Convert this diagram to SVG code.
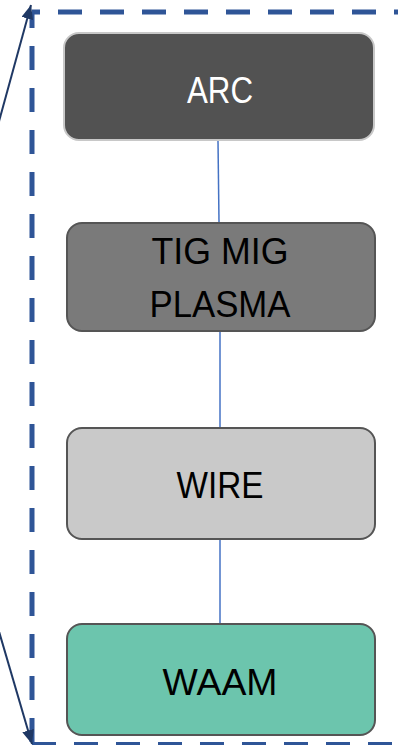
<svg xmlns="http://www.w3.org/2000/svg" width="398" height="745" viewBox="0 0 398 745">
<style>
.frame{stroke:#2f5597;stroke-width:5;fill:none;stroke-dasharray:24 18}
.arrow{stroke:#1f3864;stroke-width:2;fill:none}
.conn{stroke:#4472c4;stroke-width:1.5;fill:none}
.box{stroke:#555555;stroke-width:2}
.lbl{font-family:"Liberation Sans",Arial,sans-serif;font-size:37px;text-anchor:middle}
</style>
<defs>
<marker id="ah" viewBox="0 0 14 12" refX="14" refY="6" markerWidth="14" markerHeight="12" markerUnits="userSpaceOnUse" orient="auto">
<path d="M0,0 L14,6 L0,12 z" fill="#1f3864"/>
</marker>
</defs>
<g id="frame">
<line class="frame" x1="32" y1="12" x2="402" y2="12" stroke-dashoffset="16"/>
<line class="frame" x1="32" y1="12" x2="32" y2="744" stroke-dashoffset="8"/>
<line class="frame" x1="32" y1="744.5" x2="402" y2="744.5"/>
</g>
<g id="connectors">
<line class="arrow" x1="-2" y1="125" x2="31" y2="5" marker-end="url(#ah)"/>
<line class="arrow" x1="-2" y1="628" x2="32" y2="744" marker-end="url(#ah)"/>
<line class="conn" x1="218" y1="141" x2="219" y2="222"/>
<line class="conn" x1="220" y1="332" x2="220" y2="427"/>
<line class="conn" x1="220" y1="540" x2="220" y2="624"/>
</g>
<g id="arc">
<rect x="64" y="33" width="310" height="107" rx="15" fill="#525252" stroke="#c8c8c8" stroke-width="2"/>
<text class="lbl" x="220" y="103" fill="#ffffff" textLength="66" lengthAdjust="spacingAndGlyphs">ARC</text>
</g>
<g id="tig">
<rect class="box" x="67" y="223" width="308" height="108" rx="15" fill="#7a7a7a"/>
<text class="lbl" x="220" y="264" fill="#000000" textLength="137" lengthAdjust="spacingAndGlyphs">TIG MIG</text>
<text class="lbl" x="220" y="317" fill="#000000" textLength="141" lengthAdjust="spacingAndGlyphs">PLASMA</text>
</g>
<g id="wire">
<rect class="box" x="67" y="428" width="308" height="111" rx="15" fill="#c9c9c9"/>
<text class="lbl" x="220" y="498" fill="#000000" textLength="87" lengthAdjust="spacingAndGlyphs">WIRE</text>
</g>
<g id="waam">
<rect class="box" x="67" y="624" width="308" height="111" rx="15" fill="#6cc5ad"/>
<text class="lbl" x="220" y="695" fill="#000000" textLength="115" lengthAdjust="spacingAndGlyphs">WAAM</text>
</g>
</svg>
